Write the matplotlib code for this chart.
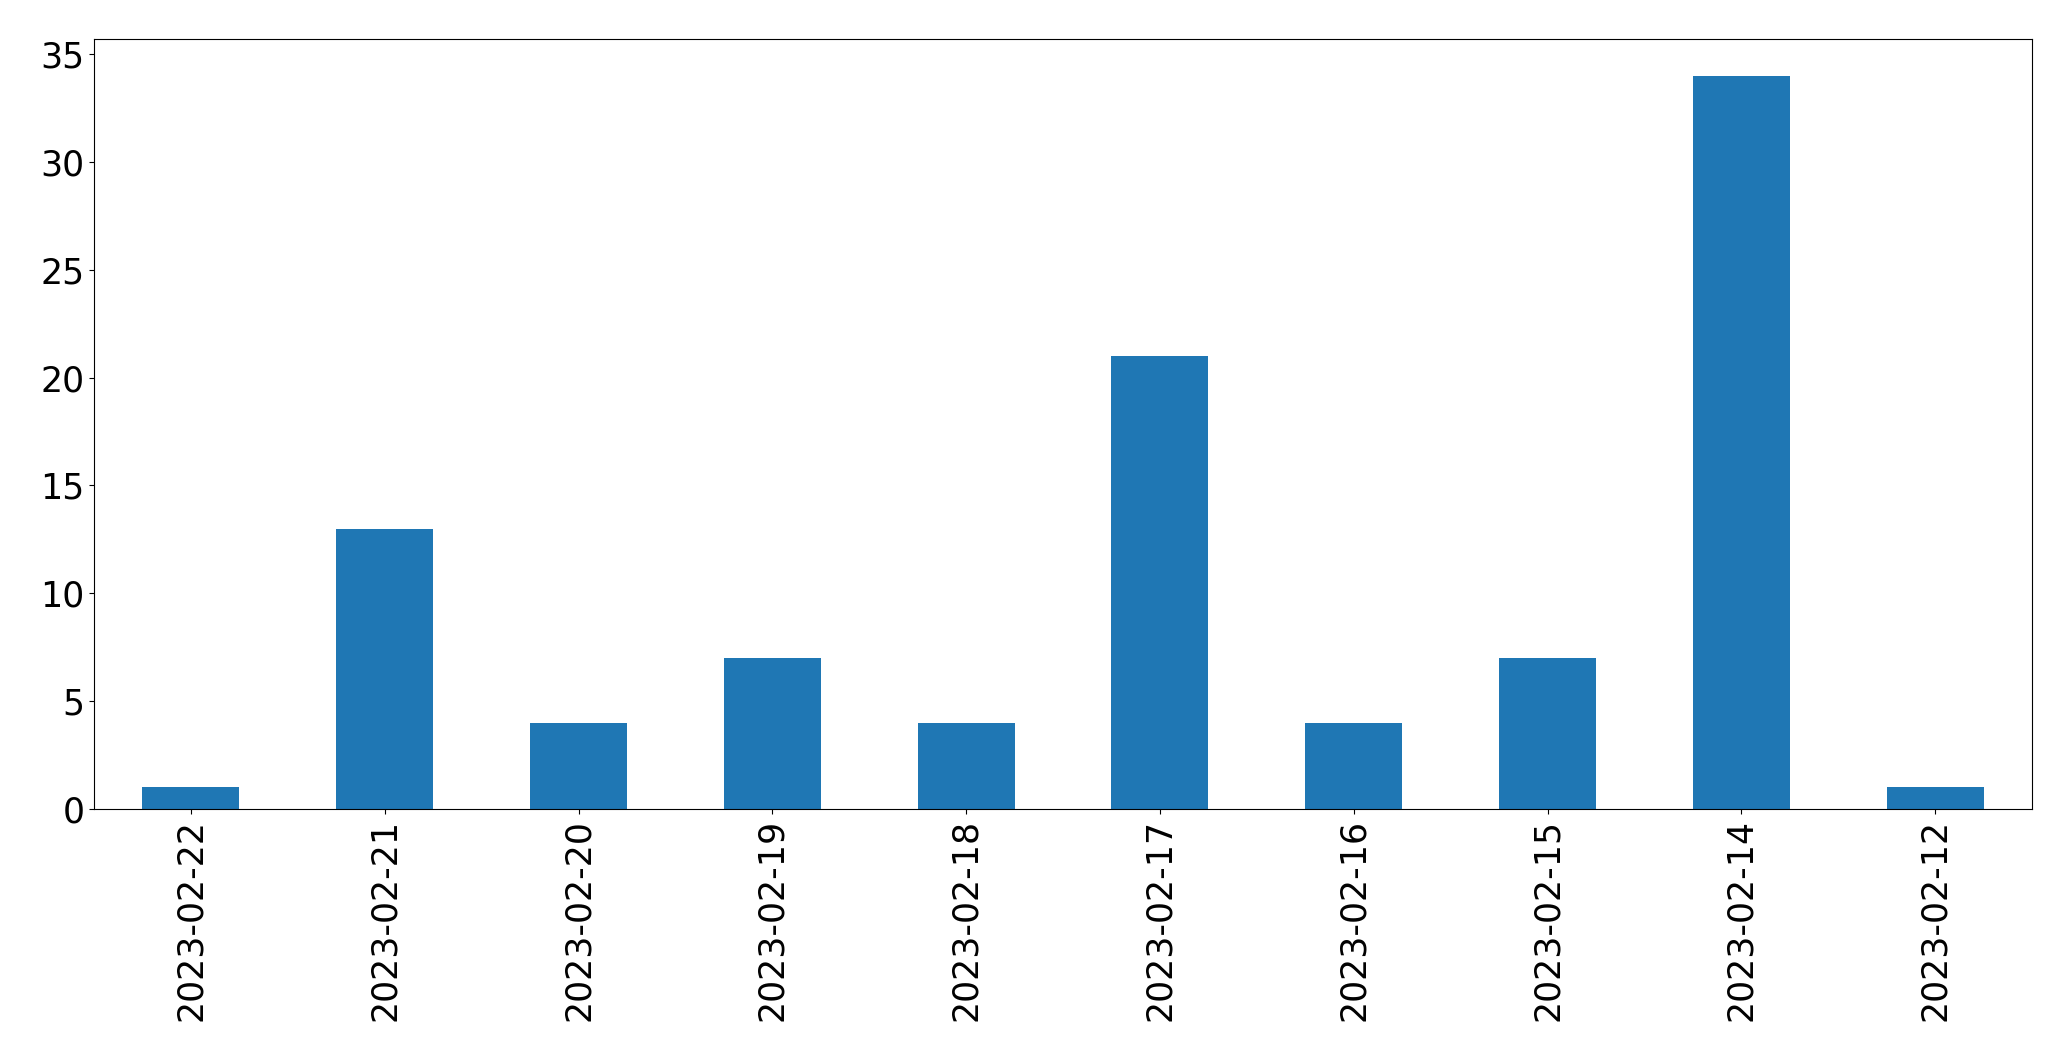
#!/usr/bin/env python3
"""Daily counts bar chart."""

import matplotlib

matplotlib.use('Agg')
import matplotlib.pyplot as plt
import numpy as np

dates = ['2023-02-22', '2023-02-21', '2023-02-20', '2023-02-19', '2023-02-18',
         '2023-02-17', '2023-02-16', '2023-02-15', '2023-02-14', '2023-02-12']
counts = [1, 13, 4, 7, 4, 21, 4, 7, 34, 1]


def main() -> None:
    fig, ax = plt.subplots(figsize=(20.71, 10.61), dpi=100)
    x = np.arange(len(dates))
    ax.bar(x, counts, width=0.5, color='#1f77b4')
    ax.set_xlim(-0.5, len(dates) - 0.5)
    ax.set_xticks(x)
    ax.set_xticklabels(dates, rotation=90)
    ax.tick_params(labelsize=25)
    fig.subplots_adjust(left=0.0454, right=0.9812, top=0.9632, bottom=0.2375)
    fig.savefig('out.png', dpi=100)


if __name__ == '__main__':
    main()
